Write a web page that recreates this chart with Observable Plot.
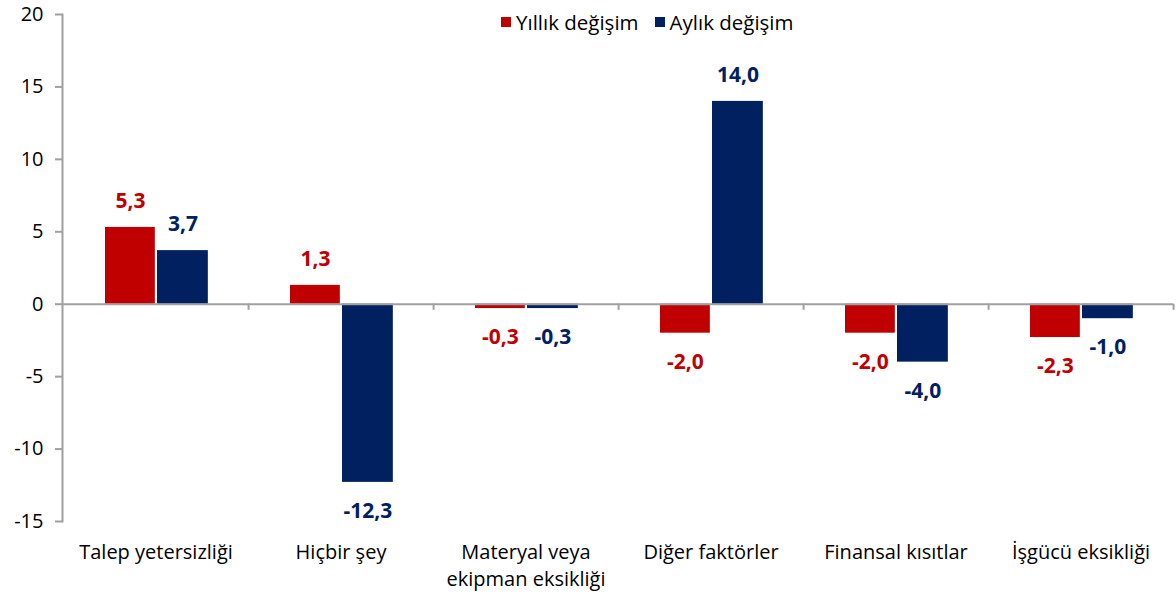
<!DOCTYPE html>
<html>
<head>
<meta charset="utf-8">
<script src="https://cdn.jsdelivr.net/npm/d3@7"></script>
<script src="https://cdn.jsdelivr.net/npm/@observablehq/plot@0.6"></script>
<style>
  html, body { margin: 0; padding: 0; background: #fff; }
  #wrap { position: relative; width: 1176px; height: 599px; font-family: "Open Sans", Lato, sans-serif; }
  #legend { position: absolute; top: 10px; left: 501px; display: flex; align-items: center; font-size: 20.5px; line-height: 24px; color: #000; white-space: nowrap; }
  #legend .sw { display: inline-block; width: 10px; height: 10px; margin-right: 5px; }
  #legend .item { display: flex; align-items: center; margin-right: 16px; }
</style>
</head>
<body>
<div id="wrap"><div id="legend"></div></div>
<script>
const categories = ["Talep yetersizliği", "Hiçbir şey", "Materyal veya\nekipman eksikliği", "Diğer faktörler", "Finansal kısıtlar", "İşgücü eksikliği"];
const series = ["Yıllık değişim", "Aylık değişim"];
const yillik = [5.3, 1.3, -0.3, -2.0, -2.0, -2.3];
const aylik = [3.7, -12.3, -0.3, 14.0, -4.0, -1.0];
const yTicks = [-15, -10, -5, 0, 5, 10, 15, 20];
const colors = ["#C00000", "#002060"];

const W = 1176, H = 599;
const mL = 62, mR = 3, mT = 14, mB = 78;
const band = (W - mL - mR) / categories.length;

const data = [];
categories.forEach((c, i) => {
  data.push({cat: c, series: series[0], value: yillik[i]});
  data.push({cat: c, series: series[1], value: aylik[i]});
});
const fmt = v => v.toFixed(1).replace(".", ",").replace("\u2212", "-");

const red = data.filter(d => d.series === series[0]);
const blue = data.filter(d => d.series === series[1]);
const gray = "#a0a0a0";
const font = "'Open Sans', Lato, sans-serif";

// legend
const legend = document.getElementById("legend");
series.forEach((s, i) => {
  const item = document.createElement("span");
  item.className = "item";
  const sw = document.createElement("span");
  sw.className = "sw";
  sw.style.background = colors[i];
  item.appendChild(sw);
  item.appendChild(document.createTextNode(s));
  legend.appendChild(item);
});

const labelMarks = [];
[[red, colors[0], 67 - band / 2], [blue, colors[1], 119.5 - band / 2]].forEach(([arr, col, dx]) => {
  labelMarks.push(Plot.text(arr, {filter: d => d.value >= 0, x: "cat", y: "value", text: d => fmt(d.value), dx, dy: -26, fill: col, fontSize: 21, fontWeight: "bold"}));
  labelMarks.push(Plot.text(arr, {filter: d => d.value < 0, x: "cat", y: "value", text: d => fmt(d.value), dx, dy: 29, fill: col, fontSize: 21, fontWeight: "bold"}));
});

const chart = Plot.plot({
  width: W, height: H,
  marginLeft: mL, marginRight: mR, marginTop: mT, marginBottom: mB,
  style: {fontFamily: font, background: "transparent", overflow: "visible"},
  x: {domain: categories, padding: 0, axis: null},
  y: {domain: [-15, 20], axis: null},
  marks: [
    Plot.barY(red, {x: "cat", y: "value", fill: colors[0], insetLeft: 42, insetRight: band - 92}),
    Plot.barY(blue, {x: "cat", y: "value", fill: colors[1], insetLeft: 94, insetRight: band - 145}),
    Plot.ruleY([0], {stroke: gray, strokeWidth: 2}),
    Plot.ruleX(categories, {x: d => d, dx: band / 2, y1: 0, y2: -0.42, stroke: gray, strokeWidth: 2}),
    Plot.frame({anchor: "left", stroke: gray, strokeWidth: 2}),
    Plot.axisY({ticks: yTicks, tickSize: 7, tickPadding: 12, tickFormat: d => String(d), fontSize: 20, stroke: gray, strokeWidth: 2, fill: "#000", label: null}),
    Plot.axisX({anchor: "bottom", tickSize: 0, tickPadding: 18, fontSize: 20, lineHeight: 1.35, fill: "#000", label: null}),
    ...labelMarks
  ]
});
chart.style.position = "absolute";
chart.style.left = "0px";
chart.style.top = "0px";
document.getElementById("wrap").insertBefore(chart, legend);
</script>
</body>
</html>
